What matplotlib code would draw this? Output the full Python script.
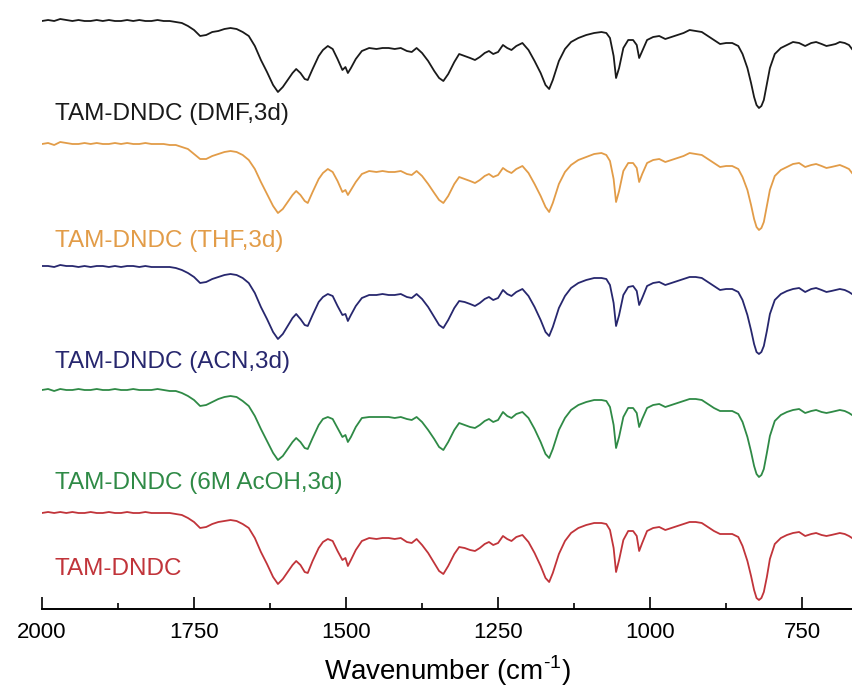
import matplotlib
matplotlib.use("Agg")
import matplotlib.pyplot as plt
from matplotlib.ticker import MultipleLocator

plt.rcParams['font.family'] = ['Liberation Sans', 'DejaVu Sans']
plt.rcParams['mathtext.fontset'] = 'custom'
plt.rcParams['mathtext.rm'] = 'Liberation Sans'

# wavenumber grid (cm-1) shared by all spectra
WAVENUMBER = [2000, 1990, 1980, 1970, 1960, 1950, 1940, 1930, 1920, 1910,
              1900, 1890, 1880, 1870, 1860, 1850, 1840, 1830, 1820, 1810,
              1800, 1790, 1780, 1770, 1760, 1750, 1740, 1730, 1720, 1710,
              1700, 1690, 1680, 1670, 1660, 1650, 1640, 1630, 1620, 1612,
              1604, 1596, 1588, 1582, 1575, 1568, 1563, 1555, 1545, 1538,
              1530, 1522, 1514, 1506, 1501, 1497, 1492, 1484, 1474, 1462,
              1450, 1440, 1430, 1420, 1410, 1400, 1392, 1384, 1375, 1365,
              1355, 1347, 1340, 1332, 1322, 1314, 1305, 1296, 1288, 1280,
              1272, 1265, 1258, 1250, 1242, 1235, 1228, 1220, 1210, 1200,
              1190, 1180, 1172, 1166, 1160, 1150, 1140, 1130, 1118, 1105,
              1092, 1080, 1072, 1066, 1060, 1056, 1051, 1044, 1036, 1028,
              1022, 1018, 1013, 1005, 995, 985, 975, 965, 955, 945,
              935, 925, 915, 905, 895, 885, 875, 865, 855, 848,
              840, 834, 829, 825, 821, 817, 813, 808, 803, 795, 785, 775,
              765, 755, 745, 735, 727, 718, 710, 702, 695, 688,
              680, 673, 668]

# transmittance (a.u.), one list per sample
T_DMF = [95, 96, 95, 97, 96, 95, 96, 95, 95, 96,
         95, 96, 95, 95, 96, 95, 96, 95, 95, 96,
         95, 95, 94, 93, 90, 86, 80, 81, 84, 85,
         87, 88, 87, 84, 80, 70, 56, 44, 31, 24,
         29, 36, 43, 47, 43, 37, 36, 47, 60, 66,
         70, 67, 57, 46, 49, 43, 48, 57, 65, 68,
         67, 68, 68, 67, 68, 65, 64, 68, 63, 55,
         45, 38, 35, 42, 54, 62, 60, 58, 56, 59,
         63, 65, 62, 64, 71, 68, 66, 70, 73, 66,
         55, 43, 31, 27, 36, 55, 67, 74, 78, 81,
         83, 84, 83, 78, 60, 38, 48, 68, 76, 76,
         71, 58, 65, 76, 79, 80, 77, 79, 81, 83,
         86, 85, 84, 80, 76, 72, 73, 73, 70, 62,
         48, 33, 19, 11, 8, 10, 16, 32, 48, 62, 68, 71,
         74, 73, 70, 73, 74, 72, 70, 71, 72, 74,
         73, 71, 67]

T_THF = [95, 96, 94, 97, 96, 95, 95, 96, 95, 96,
         95, 95, 96, 95, 96, 95, 95, 96, 95, 95,
         95, 94, 94, 92, 90, 85, 80, 80, 83, 85,
         87, 88, 87, 84, 79, 70, 57, 45, 33, 26,
         30, 37, 44, 48, 44, 38, 36, 47, 60, 66,
         70, 67, 58, 47, 49, 44, 49, 57, 65, 68,
         67, 68, 67, 67, 68, 65, 64, 68, 63, 55,
         46, 39, 36, 43, 55, 62, 60, 58, 56, 59,
         63, 65, 62, 64, 71, 68, 66, 70, 73, 66,
         55, 43, 32, 27, 36, 55, 67, 74, 79, 82,
         85, 86, 84, 78, 60, 37, 48, 68, 76, 76,
         71, 57, 65, 76, 79, 80, 77, 79, 81, 83,
         86, 85, 84, 80, 76, 72, 73, 73, 70, 62,
         49, 34, 20, 12, 9, 11, 17, 33, 49, 63, 69, 72,
         75, 76, 72, 74, 75, 73, 71, 72, 73, 74,
         72, 70, 66]

T_ACN = [96, 96, 95, 97, 96, 96, 95, 96, 95, 96,
         96, 95, 96, 95, 96, 96, 95, 96, 95, 95,
         95, 95, 94, 92, 89, 85, 79, 80, 83, 85,
         87, 88, 87, 84, 79, 69, 55, 43, 30, 23,
         28, 36, 44, 48, 43, 37, 36, 47, 60, 65,
         68, 66, 56, 47, 48, 41, 47, 56, 64, 67,
         67, 68, 67, 67, 68, 65, 64, 68, 63, 55,
         45, 37, 34, 42, 54, 61, 60, 58, 56, 59,
         63, 65, 62, 64, 72, 68, 66, 70, 73, 66,
         55, 42, 30, 26, 35, 54, 66, 74, 79, 82,
         84, 84, 83, 77, 59, 36, 47, 67, 75, 76,
         71, 57, 64, 76, 79, 80, 77, 79, 81, 83,
         85, 85, 84, 80, 76, 72, 73, 73, 70, 62,
         47, 32, 18, 10, 8, 10, 16, 31, 48, 62, 68, 71,
         73, 74, 70, 73, 74, 72, 70, 71, 72, 73,
         72, 70, 68]

T_ACOH = [95, 96, 94, 96, 95, 95, 96, 95, 95, 96,
          95, 95, 96, 95, 95, 96, 95, 95, 95, 96,
          95, 94, 94, 92, 89, 85, 79, 80, 83, 86,
          88, 89, 88, 84, 79, 69, 56, 44, 32, 25,
          29, 36, 43, 47, 43, 37, 36, 47, 60, 66,
          68, 66, 57, 48, 50, 43, 48, 58, 67, 68,
          68, 68, 68, 67, 68, 66, 65, 68, 63, 55,
          46, 38, 35, 43, 55, 62, 60, 58, 57, 60,
          64, 66, 63, 65, 73, 69, 67, 71, 73, 67,
          56, 43, 31, 27, 36, 55, 67, 75, 80, 83,
          85, 85, 84, 78, 60, 37, 48, 68, 77, 77,
          72, 58, 66, 77, 80, 81, 78, 80, 82, 84,
          86, 86, 85, 81, 77, 74, 74, 74, 71, 63,
          48, 33, 19, 11, 8, 10, 16, 32, 49, 64, 70, 73,
          75, 76, 72, 74, 75, 73, 72, 73, 74, 75,
          74, 72, 70]

T_PRISTINE = [95, 96, 95, 96, 95, 96, 95, 95, 96, 95,
              95, 96, 95, 95, 96, 95, 95, 96, 95, 95,
              95, 95, 94, 93, 90, 86, 80, 81, 84, 86,
              87, 88, 87, 84, 80, 70, 56, 44, 31, 24,
              29, 36, 43, 47, 43, 36, 35, 47, 60, 66,
              69, 67, 57, 48, 50, 42, 48, 58, 67, 70,
              69, 70, 70, 69, 70, 66, 65, 69, 63, 55,
              45, 37, 34, 42, 54, 61, 60, 58, 57, 60,
              64, 66, 63, 65, 72, 69, 67, 71, 73, 66,
              55, 42, 30, 26, 35, 54, 67, 75, 80, 83,
              85, 85, 84, 78, 60, 36, 48, 68, 77, 77,
              72, 57, 65, 77, 80, 81, 78, 80, 82, 84,
              86, 86, 85, 81, 77, 74, 74, 74, 71, 62,
              47, 32, 18, 10, 8, 10, 16, 31, 49, 64, 70, 73,
              75, 76, 72, 74, 75, 73, 72, 73, 74, 75,
              74, 72, 70]

SPECTRA = [T_DMF, T_THF, T_ACN, T_ACOH, T_PRISTINE]
LABELS = ['TAM-DNDC (DMF,3d)', 'TAM-DNDC (THF,3d)', 'TAM-DNDC (ACN,3d)',
          'TAM-DNDC (6M AcOH,3d)', 'TAM-DNDC']
COLORS = ['#1a1a1a', '#e29c48', '#27276e', '#2f8a46', '#c1343a']

# vertical stacking of the curves and where each name sits
OFFSETS = [492, 369, 246, 123, 0]
LABEL_Y = [494, 367, 246, 125, 39]


fig = plt.figure(figsize=(8.52, 6.89), dpi=100)
ax = fig.add_axes([42 / 852, 80 / 689, 810 / 852, 609 / 689])

for t, off, color in zip(SPECTRA, OFFSETS, COLORS):
    ax.plot(WAVENUMBER, [v + off for v in t], color=color, lw=1.3)

for label, y, color in zip(LABELS, LABEL_Y, COLORS):
    ax.text(1979, y, label, color=color, fontsize=17.5, ha='left', va='center')

ax.set_xlim(2000, 668)
ax.set_ylim(-1, 608)

for side in ['top', 'right', 'left']:
    ax.spines[side].set_visible(False)
ax.spines['bottom'].set_linewidth(1.4)
ax.set_yticks([])

ax.xaxis.set_major_locator(MultipleLocator(250))
ax.xaxis.set_minor_locator(MultipleLocator(125))
ax.tick_params(axis='x', which='major', direction='in', length=8.5, width=1.2,
               labelsize=16, pad=9)
ax.tick_params(axis='x', which='minor', direction='in', length=4.3, width=1.2)
ax.set_xlabel(r'Wavenumber (cm$^{\text{-1}}$)', fontsize=20, labelpad=8)

fig.savefig('out.png', dpi=100)
